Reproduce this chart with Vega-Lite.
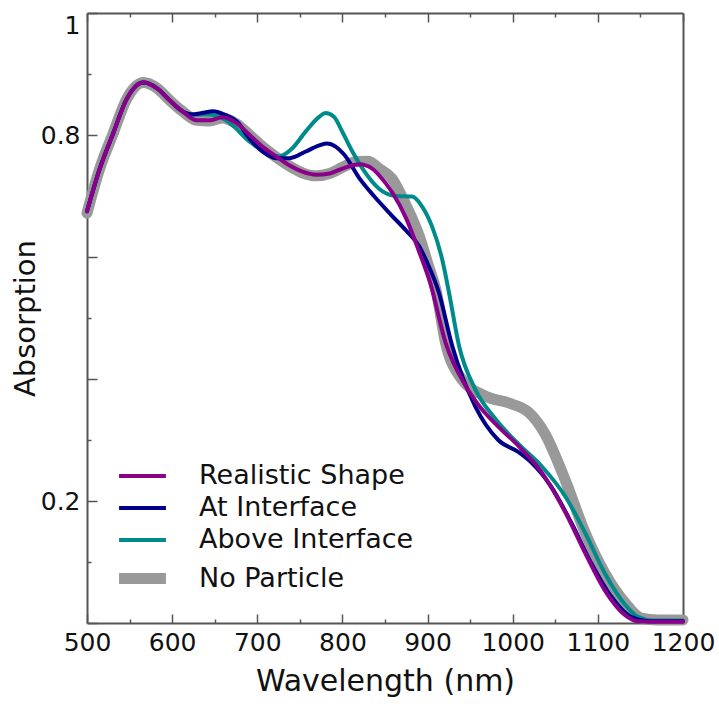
{
  "$schema": "https://vega.github.io/schema/vega-lite/v6.json",
  "width": 596,
  "height": 610,
  "autosize": {"type": "none"},
  "padding": {"left": 87, "top": 13, "right": 36, "bottom": 81},
  "background": "white",
  "config": {
    "view": {"stroke": null},
    "font": "DejaVu Sans",
    "axis": {
      "grid": false,
      "domainColor": "#555555",
      "domainWidth": 2,
      "tickColor": "#555555",
      "tickWidth": 1.5,
      "labelColor": "#111111",
      "titleColor": "#111111",
      "labelFont": "DejaVu Sans",
      "titleFont": "DejaVu Sans",
      "titleFontWeight": "normal"
    },
    "legend": {
      "title": null,
      "orient": "none",
      "legendX": 36,
      "legendY": 447,
      "symbolType": "M-1.7,0H1.7",
      "symbolSize": 760,
      "labelFontSize": 27,
      "labelFont": "DejaVu Sans",
      "labelColor": "#111111",
      "labelLimit": 500,
      "labelOffset": 37,
      "rowPadding": 3
    }
  },
  "data": {
    "values": [
      {"series": "No Particle", "wl": 500, "a": 0.672},
      {"series": "No Particle", "wl": 515, "a": 0.745},
      {"series": "No Particle", "wl": 530, "a": 0.8},
      {"series": "No Particle", "wl": 547, "a": 0.86},
      {"series": "No Particle", "wl": 566, "a": 0.886},
      {"series": "No Particle", "wl": 582, "a": 0.877},
      {"series": "No Particle", "wl": 597, "a": 0.857},
      {"series": "No Particle", "wl": 612, "a": 0.839},
      {"series": "No Particle", "wl": 629, "a": 0.824},
      {"series": "No Particle", "wl": 644, "a": 0.823},
      {"series": "No Particle", "wl": 659, "a": 0.828},
      {"series": "No Particle", "wl": 676, "a": 0.818},
      {"series": "No Particle", "wl": 691, "a": 0.8},
      {"series": "No Particle", "wl": 706, "a": 0.781},
      {"series": "No Particle", "wl": 722, "a": 0.764},
      {"series": "No Particle", "wl": 738, "a": 0.749},
      {"series": "No Particle", "wl": 753, "a": 0.738},
      {"series": "No Particle", "wl": 769, "a": 0.733},
      {"series": "No Particle", "wl": 785, "a": 0.737},
      {"series": "No Particle", "wl": 800, "a": 0.747},
      {"series": "No Particle", "wl": 815, "a": 0.756},
      {"series": "No Particle", "wl": 830, "a": 0.757},
      {"series": "No Particle", "wl": 843, "a": 0.745},
      {"series": "No Particle", "wl": 858, "a": 0.729},
      {"series": "No Particle", "wl": 875, "a": 0.684},
      {"series": "No Particle", "wl": 890, "a": 0.635},
      {"series": "No Particle", "wl": 901, "a": 0.586},
      {"series": "No Particle", "wl": 910, "a": 0.545},
      {"series": "No Particle", "wl": 921, "a": 0.46},
      {"series": "No Particle", "wl": 940, "a": 0.4},
      {"series": "No Particle", "wl": 968, "a": 0.372},
      {"series": "No Particle", "wl": 999, "a": 0.359},
      {"series": "No Particle", "wl": 1019, "a": 0.345},
      {"series": "No Particle", "wl": 1038, "a": 0.31},
      {"series": "No Particle", "wl": 1062, "a": 0.233},
      {"series": "No Particle", "wl": 1085, "a": 0.148},
      {"series": "No Particle", "wl": 1108, "a": 0.082},
      {"series": "No Particle", "wl": 1132, "a": 0.033},
      {"series": "No Particle", "wl": 1151, "a": 0.008},
      {"series": "No Particle", "wl": 1170, "a": 0.005},
      {"series": "No Particle", "wl": 1200, "a": 0.005},

      {"series": "Above Interface", "wl": 500, "a": 0.675},
      {"series": "Above Interface", "wl": 515, "a": 0.745},
      {"series": "Above Interface", "wl": 530, "a": 0.8},
      {"series": "Above Interface", "wl": 547, "a": 0.86},
      {"series": "Above Interface", "wl": 566, "a": 0.886},
      {"series": "Above Interface", "wl": 582, "a": 0.877},
      {"series": "Above Interface", "wl": 597, "a": 0.857},
      {"series": "Above Interface", "wl": 612, "a": 0.839},
      {"series": "Above Interface", "wl": 622, "a": 0.833},
      {"series": "Above Interface", "wl": 640, "a": 0.834},
      {"series": "Above Interface", "wl": 655, "a": 0.83},
      {"series": "Above Interface", "wl": 671, "a": 0.816},
      {"series": "Above Interface", "wl": 687, "a": 0.794},
      {"series": "Above Interface", "wl": 700, "a": 0.78},
      {"series": "Above Interface", "wl": 710, "a": 0.77},
      {"series": "Above Interface", "wl": 726, "a": 0.765},
      {"series": "Above Interface", "wl": 741, "a": 0.778},
      {"series": "Above Interface", "wl": 757, "a": 0.806},
      {"series": "Above Interface", "wl": 773, "a": 0.83},
      {"series": "Above Interface", "wl": 780, "a": 0.836},
      {"series": "Above Interface", "wl": 790, "a": 0.83},
      {"series": "Above Interface", "wl": 800, "a": 0.805},
      {"series": "Above Interface", "wl": 812, "a": 0.772},
      {"series": "Above Interface", "wl": 825, "a": 0.742},
      {"series": "Above Interface", "wl": 843, "a": 0.712},
      {"series": "Above Interface", "wl": 863, "a": 0.7},
      {"series": "Above Interface", "wl": 882, "a": 0.699},
      {"series": "Above Interface", "wl": 893, "a": 0.684},
      {"series": "Above Interface", "wl": 905, "a": 0.651},
      {"series": "Above Interface", "wl": 917, "a": 0.597},
      {"series": "Above Interface", "wl": 925, "a": 0.543},
      {"series": "Above Interface", "wl": 937, "a": 0.454},
      {"series": "Above Interface", "wl": 956, "a": 0.383},
      {"series": "Above Interface", "wl": 980, "a": 0.334},
      {"series": "Above Interface", "wl": 1007, "a": 0.293},
      {"series": "Above Interface", "wl": 1034, "a": 0.257},
      {"series": "Above Interface", "wl": 1062, "a": 0.207},
      {"series": "Above Interface", "wl": 1085, "a": 0.148},
      {"series": "Above Interface", "wl": 1108, "a": 0.082},
      {"series": "Above Interface", "wl": 1132, "a": 0.03},
      {"series": "Above Interface", "wl": 1147, "a": 0.01},
      {"series": "Above Interface", "wl": 1165, "a": 0.004},
      {"series": "Above Interface", "wl": 1200, "a": 0.004},

      {"series": "At Interface", "wl": 500, "a": 0.675},
      {"series": "At Interface", "wl": 515, "a": 0.745},
      {"series": "At Interface", "wl": 530, "a": 0.8},
      {"series": "At Interface", "wl": 547, "a": 0.86},
      {"series": "At Interface", "wl": 566, "a": 0.886},
      {"series": "At Interface", "wl": 582, "a": 0.877},
      {"series": "At Interface", "wl": 597, "a": 0.857},
      {"series": "At Interface", "wl": 612, "a": 0.839},
      {"series": "At Interface", "wl": 622, "a": 0.834},
      {"series": "At Interface", "wl": 635, "a": 0.836},
      {"series": "At Interface", "wl": 648, "a": 0.839},
      {"series": "At Interface", "wl": 662, "a": 0.833},
      {"series": "At Interface", "wl": 676, "a": 0.822},
      {"series": "At Interface", "wl": 691, "a": 0.794},
      {"series": "At Interface", "wl": 706, "a": 0.773},
      {"series": "At Interface", "wl": 722, "a": 0.762},
      {"series": "At Interface", "wl": 738, "a": 0.762},
      {"series": "At Interface", "wl": 757, "a": 0.773},
      {"series": "At Interface", "wl": 773, "a": 0.783},
      {"series": "At Interface", "wl": 782, "a": 0.786},
      {"series": "At Interface", "wl": 792, "a": 0.781},
      {"series": "At Interface", "wl": 802, "a": 0.768},
      {"series": "At Interface", "wl": 820, "a": 0.729},
      {"series": "At Interface", "wl": 837, "a": 0.7},
      {"series": "At Interface", "wl": 858, "a": 0.668},
      {"series": "At Interface", "wl": 875, "a": 0.643},
      {"series": "At Interface", "wl": 890, "a": 0.618},
      {"series": "At Interface", "wl": 901, "a": 0.586},
      {"series": "At Interface", "wl": 913, "a": 0.543},
      {"series": "At Interface", "wl": 929, "a": 0.454},
      {"series": "At Interface", "wl": 956, "a": 0.355},
      {"series": "At Interface", "wl": 983, "a": 0.3},
      {"series": "At Interface", "wl": 1007, "a": 0.28},
      {"series": "At Interface", "wl": 1022, "a": 0.263},
      {"series": "At Interface", "wl": 1045, "a": 0.224},
      {"series": "At Interface", "wl": 1069, "a": 0.164},
      {"series": "At Interface", "wl": 1092, "a": 0.099},
      {"series": "At Interface", "wl": 1116, "a": 0.043},
      {"series": "At Interface", "wl": 1139, "a": 0.01},
      {"series": "At Interface", "wl": 1160, "a": 0.003},
      {"series": "At Interface", "wl": 1200, "a": 0.003},

      {"series": "Realistic Shape", "wl": 500, "a": 0.675},
      {"series": "Realistic Shape", "wl": 515, "a": 0.745},
      {"series": "Realistic Shape", "wl": 530, "a": 0.8},
      {"series": "Realistic Shape", "wl": 547, "a": 0.86},
      {"series": "Realistic Shape", "wl": 566, "a": 0.886},
      {"series": "Realistic Shape", "wl": 582, "a": 0.877},
      {"series": "Realistic Shape", "wl": 597, "a": 0.857},
      {"series": "Realistic Shape", "wl": 612, "a": 0.839},
      {"series": "Realistic Shape", "wl": 629, "a": 0.824},
      {"series": "Realistic Shape", "wl": 644, "a": 0.824},
      {"series": "Realistic Shape", "wl": 659, "a": 0.829},
      {"series": "Realistic Shape", "wl": 676, "a": 0.819},
      {"series": "Realistic Shape", "wl": 691, "a": 0.8},
      {"series": "Realistic Shape", "wl": 706, "a": 0.781},
      {"series": "Realistic Shape", "wl": 722, "a": 0.765},
      {"series": "Realistic Shape", "wl": 738, "a": 0.75},
      {"series": "Realistic Shape", "wl": 753, "a": 0.74},
      {"series": "Realistic Shape", "wl": 769, "a": 0.735},
      {"series": "Realistic Shape", "wl": 785, "a": 0.737},
      {"series": "Realistic Shape", "wl": 800, "a": 0.745},
      {"series": "Realistic Shape", "wl": 820, "a": 0.752},
      {"series": "Realistic Shape", "wl": 835, "a": 0.745},
      {"series": "Realistic Shape", "wl": 843, "a": 0.734},
      {"series": "Realistic Shape", "wl": 858, "a": 0.707},
      {"series": "Realistic Shape", "wl": 875, "a": 0.663},
      {"series": "Realistic Shape", "wl": 890, "a": 0.609},
      {"series": "Realistic Shape", "wl": 903, "a": 0.558},
      {"series": "Realistic Shape", "wl": 921, "a": 0.46},
      {"series": "Realistic Shape", "wl": 945, "a": 0.388},
      {"series": "Realistic Shape", "wl": 960, "a": 0.357},
      {"series": "Realistic Shape", "wl": 983, "a": 0.322},
      {"series": "Realistic Shape", "wl": 1007, "a": 0.29},
      {"series": "Realistic Shape", "wl": 1034, "a": 0.247},
      {"series": "Realistic Shape", "wl": 1042, "a": 0.23},
      {"series": "Realistic Shape", "wl": 1062, "a": 0.181},
      {"series": "Realistic Shape", "wl": 1085, "a": 0.115},
      {"series": "Realistic Shape", "wl": 1108, "a": 0.054},
      {"series": "Realistic Shape", "wl": 1132, "a": 0.013},
      {"series": "Realistic Shape", "wl": 1147, "a": 0.003},
      {"series": "Realistic Shape", "wl": 1170, "a": 0.002},
      {"series": "Realistic Shape", "wl": 1200, "a": 0.002}
    ]
  },
  "layer": [
    {
      "mark": {"type": "line", "interpolate": "monotone", "strokeCap": "round", "strokeJoin": "round"},
      "encoding": {
        "x": {
          "field": "wl",
          "type": "quantitative",
          "scale": {"domain": [500, 1200], "nice": false, "zero": false},
          "axis": {
            "orient": "bottom",
            "values": [500, 550, 600, 650, 700, 750, 800, 850, 900, 950, 1000, 1050, 1100, 1150, 1200],
            "tickSize": {"condition": {"test": "datum.value % 100 === 0", "value": -9}, "value": -4},
            "labelExpr": "datum.value % 100 === 0 ? format(datum.value, 'd') : ''",
            "labelFlush": false,
            "labelOverlap": false,
            "labelFontSize": 25,
            "labelPadding": 16,
            "title": "Wavelength (nm)",
            "titleFontSize": 30,
            "titlePadding": 6
          }
        },
        "y": {
          "field": "a",
          "type": "quantitative",
          "scale": {"domain": [0, 1], "nice": false},
          "axis": {
            "orient": "left",
            "values": [0, 0.1, 0.2, 0.3, 0.4, 0.5, 0.6, 0.7, 0.8, 0.9, 1],
            "tickSize": {"condition": {"test": "round(datum.value * 10) % 2 === 0", "value": -10}, "value": -4},
            "labelExpr": "datum.value === 1 ? '1' : datum.value === 0.8 ? '0.8' : datum.value === 0.2 ? '0.2' : ''",
            "labelFlush": true,
            "labelOverlap": false,
            "labelFontSize": 25,
            "labelPadding": 17,
            "title": "Absorption",
            "titleFontSize": 29,
            "titlePadding": 0
          }
        },
        "color": {
          "field": "series",
          "type": "nominal",
          "scale": {
            "domain": ["Realistic Shape", "At Interface", "Above Interface", "No Particle"],
            "range": ["#8b008b", "#00008b", "#008b8b", "#999999"]
          }
        },
        "strokeWidth": {
          "field": "series",
          "type": "nominal",
          "scale": {
            "type": "ordinal",
            "domain": ["Realistic Shape", "At Interface", "Above Interface", "No Particle"],
            "range": [4, 4, 4, 11]
          }
        }
      }
    },
    {
      "mark": {"type": "point", "opacity": 0},
      "encoding": {
        "x": {
          "field": "wl",
          "type": "quantitative",
          "scale": {"domain": [500, 1200], "nice": false, "zero": false},
          "axis": {
            "orient": "top",
            "values": [500, 550, 600, 650, 700, 750, 800, 850, 900, 950, 1000, 1050, 1100, 1150, 1200],
            "tickSize": {"condition": {"test": "datum.value % 100 === 0", "value": -9}, "value": -4},
            "labels": false,
            "title": null
          }
        },
        "y": {
          "field": "a",
          "type": "quantitative",
          "scale": {"domain": [0, 1], "nice": false},
          "axis": {"orient": "right", "ticks": false, "labels": false, "title": null}
        }
      }
    }
  ],
  "resolve": {"scale": {"x": "independent", "y": "independent"}}
}
